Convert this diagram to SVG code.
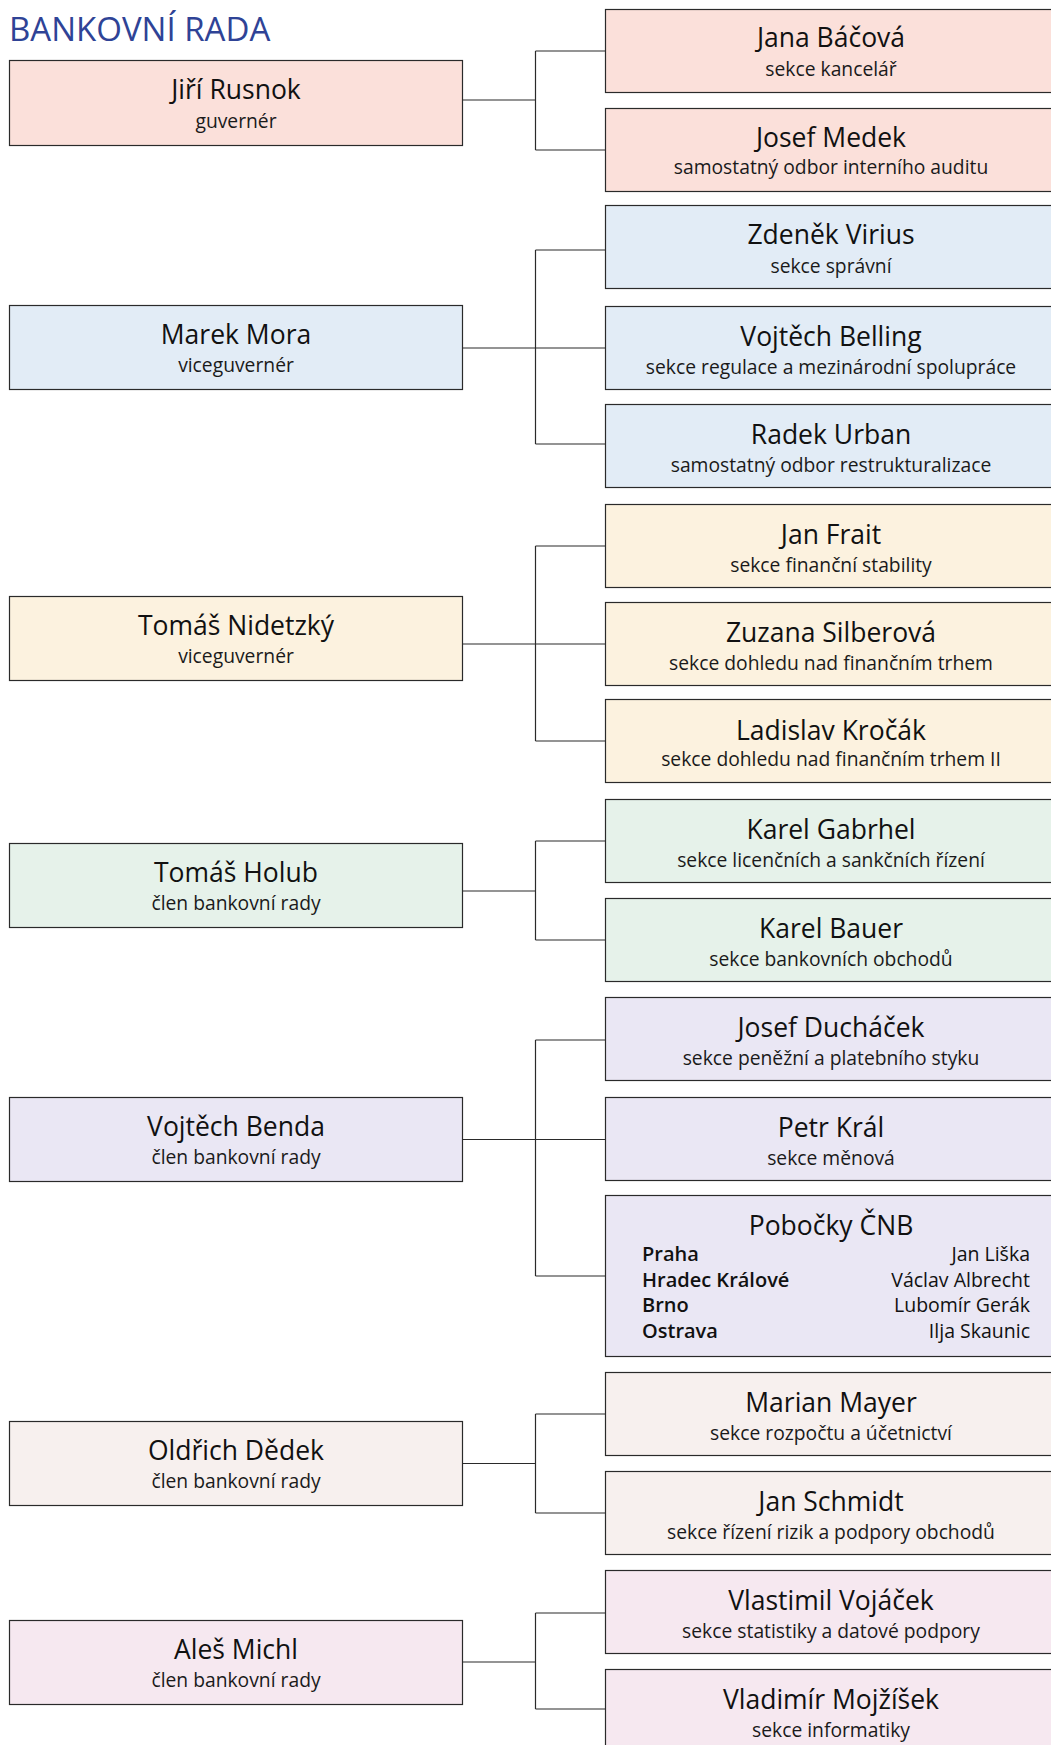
<svg xmlns="http://www.w3.org/2000/svg" width="1051" height="1745" viewBox="0 0 1051 1745">
<style>
text{font-family:"Open Sans","Noto Sans","DejaVu Sans",sans-serif;fill:#111;text-anchor:middle}
.t{font-size:33px;fill:#2F4396;text-anchor:start}
.n{font-size:26.5px}
.s{font-size:19.3px;fill:#1a1a1a}
.b{stroke:#2a2a2a;stroke-width:1.2}
.c1{fill:#FBE0DA}.c2{fill:#E2ECF6}.c3{fill:#FCF2DF}.c4{fill:#E6F2EA}.c5{fill:#EAE7F4}.c6{fill:#F7F0EE}.c7{fill:#F6E8F0}
.lbl{font-size:20px;font-weight:600;text-anchor:start}
.val{font-size:19.5px;text-anchor:end}
#conn path{fill:none;stroke:#2a2a2a;stroke-width:1.2}
</style>
<text class="t" x="9" y="41">BANKOVNÍ RADA</text>
<g id="conn">
<path d="M463 100H535.5M535.5 51V150M535.5 51H605M535.5 150H605"/>
<path d="M463 348H535.5M535.5 250V444M535.5 250H605M535.5 348H605M535.5 444H605"/>
<path d="M463 644H535.5M535.5 546V741M535.5 546H605M535.5 644H605M535.5 741H605"/>
<path d="M463 891H535.5M535.5 841V940M535.5 841H605M535.5 940H605"/>
<path d="M463 1139.5H535.5M535.5 1040V1276M535.5 1040H605M535.5 1139.5H605M535.5 1276H605"/>
<path d="M463 1463.5H535.5M535.5 1414V1513M535.5 1414H605M535.5 1513H605"/>
<path d="M463 1662H535.5M535.5 1613V1709M535.5 1613H605M535.5 1709H605"/>
</g>
<g id="rusnok"><rect class="b c1" x="9.5" y="60.5" width="453" height="85"/><text class="n" x="236" y="98.5">Jiří Rusnok</text><text class="s" x="236" y="127.5">guvernér</text></g>
<g id="bacova"><rect class="b c1" x="605.5" y="9.5" width="460" height="83"/><text class="n" x="831" y="47">Jana Báčová</text><text class="s" x="831" y="76">sekce kancelář</text></g>
<g id="medek"><rect class="b c1" x="605.5" y="108.5" width="460" height="83"/><text class="n" x="831" y="146.5">Josef Medek</text><text class="s" x="831" y="174">samostatný odbor interního auditu</text></g>

<g id="mora"><rect class="b c2" x="9.5" y="305.5" width="453" height="84"/><text class="n" x="236" y="343.5">Marek Mora</text><text class="s" x="236" y="372">viceguvernér</text></g>
<g id="virius"><rect class="b c2" x="605.5" y="205.5" width="460" height="83"/><text class="n" x="831" y="244">Zdeněk Virius</text><text class="s" x="831" y="273">sekce správní</text></g>
<g id="belling"><rect class="b c2" x="605.5" y="306.5" width="460" height="83"/><text class="n" x="831" y="345.5">Vojtěch Belling</text><text class="s" x="831" y="373.5">sekce regulace a mezinárodní spolupráce</text></g>
<g id="urban"><rect class="b c2" x="605.5" y="404.5" width="460" height="83"/><text class="n" x="831" y="443.5">Radek Urban</text><text class="s" x="831" y="472">samostatný odbor restrukturalizace</text></g>

<g id="nidetzky"><rect class="b c3" x="9.5" y="596.5" width="453" height="84"/><text class="n" x="236" y="634.5">Tomáš Nidetzký</text><text class="s" x="236" y="663">viceguvernér</text></g>
<g id="frait"><rect class="b c3" x="605.5" y="504.5" width="460" height="83"/><text class="n" x="831" y="543.5">Jan Frait</text><text class="s" x="831" y="571.5">sekce finanční stability</text></g>
<g id="silberova"><rect class="b c3" x="605.5" y="602.5" width="460" height="83"/><text class="n" x="831" y="641.5">Zuzana Silberová</text><text class="s" x="831" y="670">sekce dohledu nad finančním trhem</text></g>
<g id="krocak"><rect class="b c3" x="605.5" y="699.5" width="460" height="83"/><text class="n" x="831" y="739.5">Ladislav Kročák</text><text class="s" x="831" y="765.5">sekce dohledu nad finančním trhem II</text></g>

<g id="holub"><rect class="b c4" x="9.5" y="843.5" width="453" height="84"/><text class="n" x="236" y="881.5">Tomáš Holub</text><text class="s" x="236" y="910">člen bankovní rady</text></g>
<g id="gabrhel"><rect class="b c4" x="605.5" y="799.5" width="460" height="83"/><text class="n" x="831" y="838.5">Karel Gabrhel</text><text class="s" x="831" y="866.5">sekce licenčních a sankčních řízení</text></g>
<g id="bauer"><rect class="b c4" x="605.5" y="898.5" width="460" height="83"/><text class="n" x="831" y="937.5">Karel Bauer</text><text class="s" x="831" y="965.5">sekce bankovních obchodů</text></g>

<g id="benda"><rect class="b c5" x="9.5" y="1097.5" width="453" height="84"/><text class="n" x="236" y="1135.5">Vojtěch Benda</text><text class="s" x="236" y="1164">člen bankovní rady</text></g>
<g id="duchacek"><rect class="b c5" x="605.5" y="997.5" width="460" height="83"/><text class="n" x="831" y="1036.5">Josef Ducháček</text><text class="s" x="831" y="1064.5">sekce peněžní a platebního styku</text></g>
<g id="kral"><rect class="b c5" x="605.5" y="1097.5" width="460" height="83"/><text class="n" x="831" y="1136.5">Petr Král</text><text class="s" x="831" y="1164.5">sekce měnová</text></g>
<g id="pobocky"><rect class="b c5" x="605.5" y="1195.5" width="460" height="161"/><text class="n" x="831" y="1235">Pobočky ČNB</text>
<text class="lbl" x="642" y="1261">Praha</text><text class="val" x="1030" y="1261">Jan Liška</text>
<text class="lbl" x="642" y="1286.5">Hradec Králové</text><text class="val" x="1030" y="1286.5">Václav Albrecht</text>
<text class="lbl" x="642" y="1312">Brno</text><text class="val" x="1030" y="1312">Lubomír Gerák</text>
<text class="lbl" x="642" y="1337.5">Ostrava</text><text class="val" x="1030" y="1337.5">Ilja Skaunic</text></g>

<g id="dedek"><rect class="b c6" x="9.5" y="1421.5" width="453" height="84"/><text class="n" x="236" y="1459.5">Oldřich Dědek</text><text class="s" x="236" y="1488">člen bankovní rady</text></g>
<g id="mayer"><rect class="b c6" x="605.5" y="1372.5" width="460" height="83"/><text class="n" x="831" y="1411.5">Marian Mayer</text><text class="s" x="831" y="1439.5">sekce rozpočtu a účetnictví</text></g>
<g id="schmidt"><rect class="b c6" x="605.5" y="1471.5" width="460" height="83"/><text class="n" x="831" y="1510.5">Jan Schmidt</text><text class="s" x="831" y="1538.5">sekce řízení rizik a podpory obchodů</text></g>

<g id="michl"><rect class="b c7" x="9.5" y="1620.5" width="453" height="84"/><text class="n" x="236" y="1658.5">Aleš Michl</text><text class="s" x="236" y="1687">člen bankovní rady</text></g>
<g id="vojacek"><rect class="b c7" x="605.5" y="1570.5" width="460" height="83"/><text class="n" x="831" y="1609.5">Vlastimil Vojáček</text><text class="s" x="831" y="1637.5">sekce statistiky a datové podpory</text></g>
<g id="mojzisek"><rect class="b c7" x="605.5" y="1669.5" width="460" height="83"/><text class="n" x="831" y="1708.5">Vladimír Mojžíšek</text><text class="s" x="831" y="1736.5">sekce informatiky</text></g>
</svg>
